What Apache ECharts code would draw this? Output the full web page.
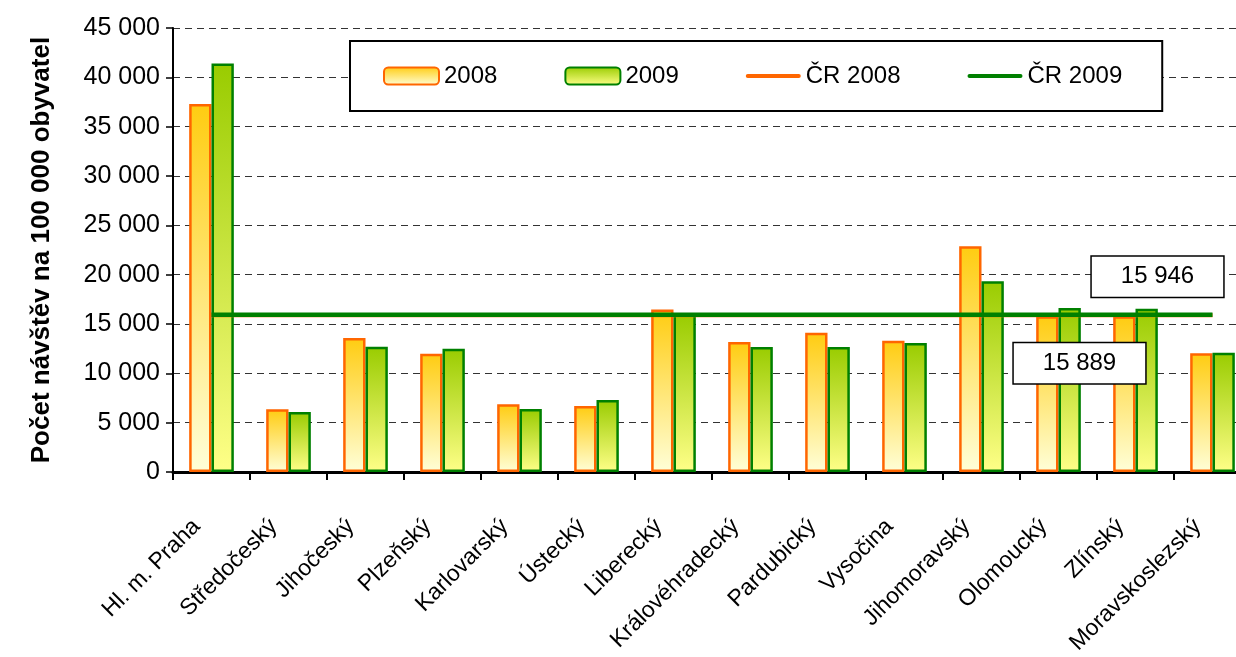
<!DOCTYPE html>
<html><head><meta charset="utf-8">
<script src="https://cdn.jsdelivr.net/npm/echarts@6/dist/echarts.min.js"></script>
<style>html,body{margin:0;padding:0;background:#fff;overflow:hidden;width:1236px;height:657px}#c{width:1251px;height:657px}</style>
</head><body><div id="c"></div>
<script>
const categories = ['Hl. m. Praha','Středočeský','Jihočeský','Plzeňský','Karlovarský','Ústecký','Liberecký','Královéhradecký','Pardubický','Vysočina','Jihomoravský','Olomoucký','Zlínský','Moravskoslezský'];
const values2008 = [37300, 6370, 13580, 12000, 6880, 6700, 16480, 13180, 14120, 13310, 22890, 15800, 15800, 12030];
const values2009 = [41400, 6100, 12710, 12510, 6400, 7310, 16000, 12670, 12670, 13080, 19350, 16620, 16550, 12100];
const cr2008 = 15889;
const cr2009 = 15946;
const yTicks = {min: 0, max: 45000, interval: 5000};

const fmt = v => String(v).replace(/\B(?=(\d{3})+(?!\d))/g, ' ');
const font = 'Liberation Sans, Arial, sans-serif';

const lastCat = categories[categories.length - 1];
const boxMark = (val, offset) => ({
  symbol: 'circle', symbolSize: 0, silent: true,
  label: {
    show: true, position: 'inside', offset: offset,
    formatter: () => fmt(val),
    backgroundColor: '#fff', borderColor: '#000', borderWidth: 1.5,
    padding: [9, 29, 7, 29], color: '#000', fontSize: 24, fontFamily: font
  },
  data: [{coord: [lastCat, val], value: val}]
});
const lineIcon = 'path://M0,0L0.05,0L0.05,0.05Z M2,6.5L53,6.5A2,2 0 0 1 53,10.5L2,10.5A2,2 0 0 1 2,6.5Z M55,17L54.95,17L54.95,16.95Z';

const chart = echarts.init(document.getElementById('c'));
chart.setOption({
  animation: false,
  textStyle: {fontFamily: font},
  grid: {left: 173, top: 28, bottom: 184, right: 0, containLabel: false},
  legend: {
    left: 350, top: 41,
    backgroundColor: '#fff', borderColor: '#000', borderWidth: 2,
    padding: [23, 40, 23, 33], itemGap: 67,
    itemWidth: 55, itemHeight: 17,
    textStyle: {fontSize: 24, color: '#000', fontFamily: font},
    data: ['2008', '2009', {name: 'ČR 2008', icon: lineIcon}, {name: 'ČR 2009', icon: lineIcon}]
  },
  xAxis: {
    type: 'category', data: categories, boundaryGap: true,
    axisLine: {lineStyle: {color: '#000', width: 3}},
    axisTick: {show: true, length: 8, lineStyle: {color: '#000', width: 2}},
    axisLabel: {rotate: 45, fontSize: 23, color: '#000', margin: 36, padding: [0, 21, 0, 0], interval: 0, fontFamily: font}
  },
  yAxis: {
    type: 'value', min: yTicks.min, max: yTicks.max, interval: yTicks.interval,
    name: 'Počet návštěv na 100 000 obyvatel', nameLocation: 'middle', nameGap: 118,
    nameTextStyle: {fontSize: 26, fontWeight: 'bold', color: '#000', fontFamily: font},
    axisLine: {show: true, lineStyle: {color: '#000', width: 2}},
    axisTick: {show: true, length: 7, lineStyle: {color: '#000', width: 1.5}},
    axisLabel: {formatter: v => fmt(v), fontSize: 25, color: '#000', margin: 13, fontFamily: font},
    splitLine: {show: true, lineStyle: {color: '#333', type: [7, 5], width: 1}}
  },
  series: [
    {
      name: '2008', type: 'bar', data: values2008, barGap: '0%', barCategoryGap: '42%',
      itemStyle: {
        color: new echarts.graphic.LinearGradient(0, 0, 0, 1, [{offset: 0, color: '#FFCC11'}, {offset: 1, color: '#FFFFD8'}]),
        borderColor: '#FF6600', borderWidth: 2.5
      }
    },
    {
      name: '2009', type: 'bar', data: values2009,
      itemStyle: {
        color: new echarts.graphic.LinearGradient(0, 0, 0, 1, [{offset: 0, color: '#99CC00'}, {offset: 1, color: '#FFFF88'}]),
        borderColor: '#008000', borderWidth: 2.5
      }
    },
    {
      name: 'ČR 2008', type: 'line', data: categories.map(() => cr2008),
      symbol: 'none', showSymbol: false,
      lineStyle: {color: '#FF6600', width: 4}, itemStyle: {color: '#FF6600'}, z: 5,
      markPoint: boxMark(cr2008, [-133, 48])
    },
    {
      name: 'ČR 2009', type: 'line', data: categories.map(() => cr2009),
      symbol: 'none', showSymbol: false,
      lineStyle: {color: '#008000', width: 4.5}, itemStyle: {color: '#008000'}, z: 6,
      markPoint: boxMark(cr2009, [-55, -38])
    }
  ]
});
</script></body></html>
